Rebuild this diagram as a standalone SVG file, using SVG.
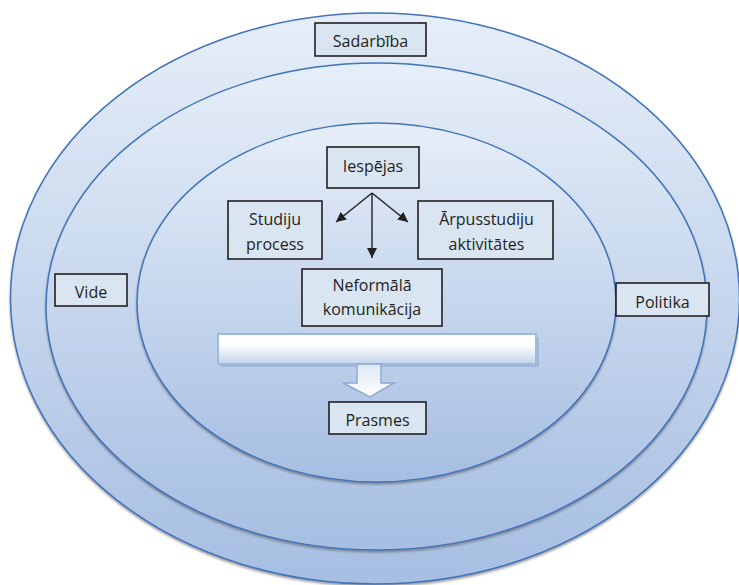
<svg xmlns="http://www.w3.org/2000/svg" width="739" height="585" viewBox="0 0 739 585">
<defs>
<linearGradient id="eg" x1="0" y1="0" x2="0" y2="1">
<stop offset="0" stop-color="#e6eef8"/>
<stop offset="1" stop-color="#a6bee2"/>
</linearGradient>
<linearGradient id="bg" x1="0" y1="0" x2="0" y2="1">
<stop offset="0" stop-color="#ffffff"/>
<stop offset="0.35" stop-color="#ffffff"/>
<stop offset="1" stop-color="#c3d4ec"/>
</linearGradient>
<linearGradient id="ag" x1="0" y1="0" x2="0" y2="1">
<stop offset="0" stop-color="#dfe8f5"/>
<stop offset="1" stop-color="#ffffff"/>
</linearGradient>
<filter id="sh" x="-5%" y="-5%" width="110%" height="112%">
<feDropShadow dx="0" dy="2" stdDeviation="1.2" flood-color="#555" flood-opacity="0.55"/>
</filter>
<marker id="ah" viewBox="0 0 10 10" refX="10" refY="5" markerWidth="10" markerHeight="10" markerUnits="userSpaceOnUse" orient="auto">
<path d="M0,0 L10,5 L0,10 Z" fill="#231f20"/>
</marker>
<style>
.ell{fill:url(#eg);stroke:#3f74bb;stroke-width:1.5;filter:url(#sh)}
.box{fill:#dae5f2;stroke:#231f20;stroke-width:1.6}
.t{font-family:"Open Sans","Liberation Sans",sans-serif;font-size:16px;fill:#231f20;text-anchor:middle}
.con{stroke:#231f20;stroke-width:1.4;fill:none;marker-end:url(#ah)}
</style>
</defs>
<rect width="739" height="585" fill="#ffffff"/>
<g id="rings">
<ellipse id="outer" class="ell" cx="375" cy="298.5" rx="364.5" ry="285.5"/>
<ellipse id="middle" class="ell" cx="376.5" cy="306.5" rx="330.5" ry="243.5"/>
<ellipse id="inner" class="ell" cx="376.5" cy="302.5" rx="239.5" ry="179.5"/>
</g>
<g id="sadarbiba"><rect class="box" x="315" y="23" width="111" height="33"/><text class="t" x="370.5" y="46.5">Sadarbība</text></g>
<g id="vide"><rect class="box" x="55" y="274" width="72" height="32"/><text class="t" x="91" y="298">Vide</text></g>
<g id="politika"><rect class="box" x="616" y="283" width="93" height="33"/><text class="t" x="662.5" y="307.5">Politika</text></g>
<g id="iespejas"><rect class="box" x="327" y="147" width="92" height="41"/><text class="t" x="373" y="172">Iespējas</text></g>
<g id="studiju"><rect class="box" x="228" y="201" width="94" height="58"/><text class="t" x="275" y="225">Studiju</text><text class="t" x="275" y="250">process</text></g>
<g id="arpus"><rect class="box" x="418" y="201" width="135" height="58"/><text class="t" x="486.5" y="225">Ārpusstudiju</text><text class="t" x="486.5" y="250">aktivitātes</text></g>
<g id="neformala"><rect class="box" x="302" y="269" width="140" height="57"/><text class="t" x="372" y="291">Neformālā</text><text class="t" x="372" y="315">komunikācija</text></g>
<g id="bar">
<rect x="221" y="337" width="318" height="30" fill="#8fa9cf" opacity="0.6"/>
<rect x="218" y="334" width="318" height="30" fill="url(#bg)" stroke="#9dbbe1" stroke-width="2"/>
</g>
<g id="blockarrow">
<path d="M357,364 L381,364 L381,383 L394,383 L370,397 L343,383 L357,383 Z" fill="url(#ag)" stroke="#8aaad6" stroke-width="1.5"/>
</g>
<g id="prasmes"><rect class="box" x="329" y="402" width="97" height="32"/><text class="t" x="377.5" y="426">Prasmes</text></g>
<g id="connectors">
<line class="con" x1="372" y1="193" x2="336" y2="222"/>
<line class="con" x1="372" y1="193" x2="408" y2="222"/>
<line class="con" x1="372" y1="193" x2="372" y2="258"/>
</g>
</svg>
